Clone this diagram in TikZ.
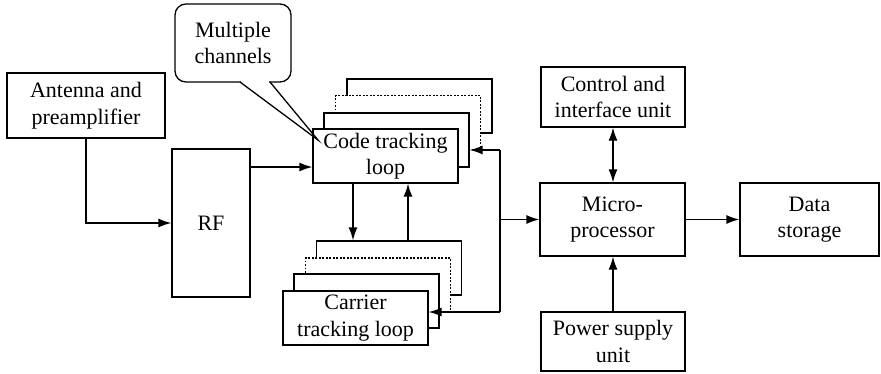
\documentclass[tikz,border=0pt]{standalone}
\usepackage{fontspec}
\setmainfont{Liberation Serif}
\newfontfamily\diagfont{Liberation Serif}
\usetikzlibrary{arrows.meta}
\begin{document}
\begin{tikzpicture}[x=1pt,y=-1pt,line width=1.3pt,
  box/.style={draw,fill=white,inner sep=0pt,align=center,font=\diagfont\fontsize{22}{26.5}\selectfont},
  layer/.style={draw,fill=white,inner sep=0pt,minimum width=145pt,minimum height=54pt},
  dotlayer/.style={layer,dash pattern=on 1.6pt off 1.9pt},
  arr/.style={-{Latex[length=13pt,width=9pt]}},
  darr/.style={{Latex[length=13pt,width=9pt]}-{Latex[length=13pt,width=9pt]}}]
\useasboundingbox (0,0) rectangle (881,373);

% blocks
\node[box,minimum width=158pt,minimum height=65pt] (ant) at (86,105.5) {Antenna and\\preamplifier};
\node[box,minimum width=78pt,minimum height=148pt] (rf) at (211,223) {RF};

% code tracking stack
\node[layer] (codeB) at (419.5,106) {};
\node[dotlayer] (codeD) at (408,122.5) {};
\node[layer] (codeS) at (396.5,140) {};
\node[box,minimum width=145pt,minimum height=54pt] (codeF) at (385.5,156) {Code tracking\\loop};

% carrier tracking stack
\node[layer] (carB) at (389,268) {};
\node[dotlayer] (carD) at (378,285) {};
\node[layer] (carS) at (366.5,301) {};
\node[box,minimum width=145pt,minimum height=54pt] (carF) at (355.5,318) {Carrier\\tracking loop};

\node[box,minimum width=145pt,minimum height=73pt] (micro) at (612.5,219.5) {Micro-\\processor};
\node[box,minimum width=139pt,minimum height=73pt] (data) at (809.5,219.5) {Data\\storage};
\node[box,minimum width=144pt,minimum height=60pt] (ctrl) at (613,97) {Control and\\interface unit};
\node[box,minimum width=144pt,minimum height=59pt] (power) at (613,341.5) {Power supply\\unit};

% callout
\node[box,rounded corners=11pt,minimum width=116pt,minimum height=78pt] (call) at (233,43) {Multiple\\channels};
\coordinate (pa) at (240,82);
\coordinate (pb) at (270,82);
\coordinate (tip) at (318,140);
\fill[white] (241,79) rectangle (269,84);
\draw (pa) -- (tip) -- (pb);

% helper coordinates
\coordinate (yrf) at (0,167);
\coordinate (xdown) at (353,0);
\coordinate (xup) at (408,0);
\coordinate (bustop) at (500,150);
\coordinate (busbot) at (500,312);

% connectors
\draw[arr] (ant.south) |- (rf.west);
\draw[arr] (rf.east |- yrf) -- (codeF.west |- yrf);
\draw[arr] (codeF.south -| xdown) -- (carB.north -| xdown);
\draw[arr] (carB.north -| xup) -- (codeF.south -| xup);
\draw (busbot) -- (bustop);
\draw[arr] (bustop) -- (codeS.east |- bustop);
\draw[arr] (busbot) -- (carF.east |- busbot);
\draw[arr] (bustop |- micro.west) -- (micro.west);
\draw[arr] (micro.east) -- (data.west);
\draw[darr] (ctrl.south) -- (ctrl.south |- micro.north);
\draw[arr] (power.north) -- (power.north |- micro.south);
\end{tikzpicture}
\end{document}
